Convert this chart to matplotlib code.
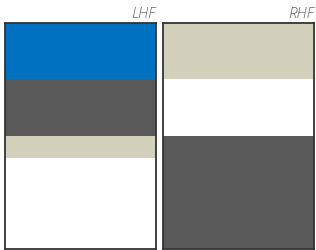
import matplotlib
matplotlib.use("Agg")
import matplotlib.pyplot as plt

# panel names and segment shares, listed from top to bottom
panels = ["LHF", "RHF"]
lhf_colors = ["#0070c0", "#595959", "#d3d0bc", "#ffffff"]
lhf_shares = [0.25, 0.25, 0.10, 0.40]
rhf_colors = ["#d3d0bc", "#ffffff", "#595959"]
rhf_shares = [0.25, 0.25, 0.50]

fig = plt.figure(figsize=(3.16, 2.51), dpi=100)
fig.patch.set_facecolor("white")

boxes = [[5 / 316, 1.5 / 251, 151 / 316, 225.5 / 251],
         [163 / 316, 1.5 / 251, 151 / 316, 225.5 / 251]]

for name, box, shares, colors in zip(panels, boxes,
                                     [lhf_shares, rhf_shares],
                                     [lhf_colors, rhf_colors]):
    ax = fig.add_axes(box)
    bottom = 0
    for s, c in zip(shares, colors):
        ax.bar(0, s, bottom=bottom, width=1, color=c, linewidth=0)
        bottom += s
    ax.set_xlim(-0.5, 0.5)
    ax.set_ylim(1, 0)
    ax.set_xticks([])
    ax.set_yticks([])
    for sp in ax.spines.values():
        sp.set_color("#333333")
        sp.set_linewidth(1.3)
    ax.text(1.0, 1.012, name, transform=ax.transAxes, ha="right", va="bottom",
            fontsize=11, style="italic", color="#666666",
            family="Open Sans", fontweight="light")

fig.savefig("out.png", dpi=100)
